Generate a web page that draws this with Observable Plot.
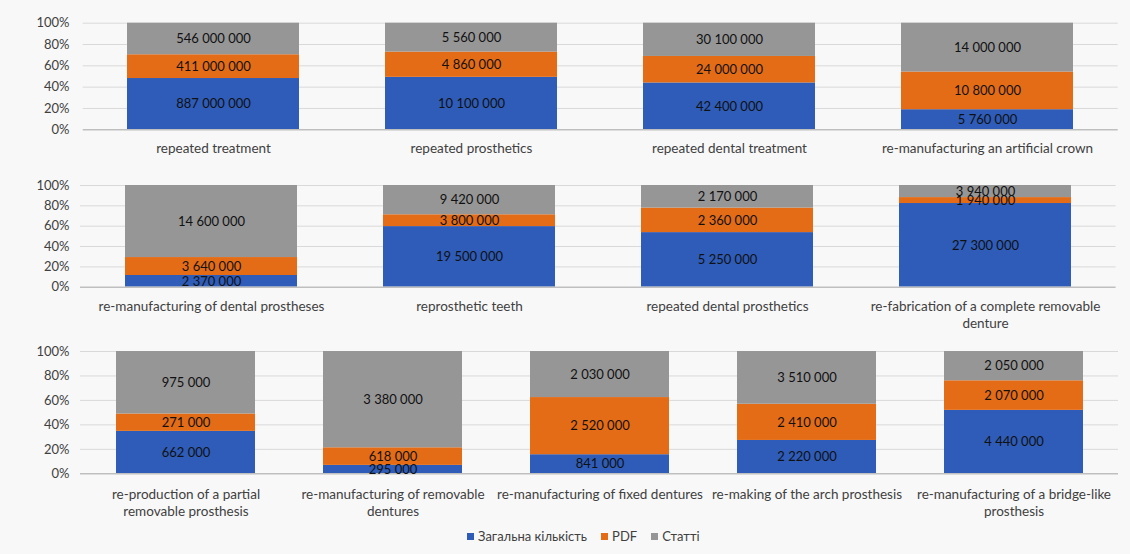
<!DOCTYPE html>
<html>
<head>
<meta charset="utf-8">
<script src="https://cdn.jsdelivr.net/npm/d3@7"></script>
<script src="https://cdn.jsdelivr.net/npm/@observablehq/plot@0.6"></script>
<style>
  html, body { margin: 0; padding: 0; background: #ffffff; }
  #wrap { position: relative; width: 1130px; height: 554px; background: #f8f8f8; overflow: hidden; font-family: Lato, "Open Sans", sans-serif; }
  .row { position: absolute; left: 0; }
  #legend { position: absolute; left: 467px; top: 528px; display: flex; align-items: center; font-size: 13px; color: #404040; white-space: nowrap; }
  #legend .sw { display: inline-block; width: 7px; height: 7px; margin-right: 4px; }
  #legend .item { display: flex; align-items: center; margin-right: 14px; }
</style>
</head>
<body>
<div id="wrap">
  <div class="row" id="r1" style="top:0px"></div>
  <div class="row" id="r2" style="top:170px"></div>
  <div class="row" id="r3" style="top:340px"></div>
  <div id="legend"></div>
</div>
<script>
// ---- Data ----
const seriesNames = ["Загальна кількість", "PDF", "Статті"];
const seriesColors = ["#2E5CB8", "#E46C17", "#969696"];
const yTicks = [0, 0.2, 0.4, 0.6, 0.8, 1];

const categories1 = ["repeated treatment", "repeated prosthetics", "repeated dental treatment", "re-manufacturing an artificial crown"];
const total1 = [887000000, 10100000, 42400000, 5760000];
const pdf1 = [411000000, 4860000, 24000000, 10800000];
const articles1 = [546000000, 5560000, 30100000, 14000000];

const categories2 = ["re-manufacturing of dental prostheses", "reprosthetic teeth", "repeated dental prosthetics", "re-fabrication of a complete removable\ndenture"];
const total2 = [2370000, 19500000, 5250000, 27300000];
const pdf2 = [3640000, 3800000, 2360000, 1940000];
const articles2 = [14600000, 9420000, 2170000, 3940000];

const categories3 = ["re-production of a partial\nremovable prosthesis", "re-manufacturing of removable\ndentures", "re-manufacturing of fixed dentures", "re-making of the arch prosthesis", "re-manufacturing of a bridge-like\nprosthesis"];
const total3 = [662000, 295000, 841000, 2220000, 4440000];
const pdf3 = [271000, 618000, 2520000, 2410000, 2070000];
const articles3 = [975000, 3380000, 2030000, 3510000, 2050000];

// ---- Helpers ----
const fmtNum = v => d3.format(",")(v).replace(/,/g, " ");

function buildRows(cats, seriesArrays) {
  const rows = [];
  cats.forEach((c, i) => {
    const vals = seriesArrays.map(a => a[i]);
    const sum = d3.sum(vals);
    let acc = 0;
    vals.forEach((v, j) => {
      const y1 = acc / sum;
      acc += v;
      const y2 = acc / sum;
      rows.push({cat: c, series: seriesNames[j], value: v, y1, y2, ym: (y1 + y2) / 2});
    });
  });
  return rows;
}

function makeRow(cats, seriesArrays, o) {
  const rows = buildRows(cats, seriesArrays);
  return Plot.plot({
    width: 1130,
    height: o.height,
    marginTop: o.mt,
    marginBottom: o.mb,
    marginLeft: o.ml,
    marginRight: o.mr,
    style: {background: "transparent", fontFamily: "Lato, 'Open Sans', sans-serif", fontSize: "13px", color: "#404040"},
    x: {domain: cats, paddingInner: o.pad, paddingOuter: o.pad / 2, axis: null, label: null},
    y: {domain: [0, 1], axis: null, label: null},
    color: {domain: seriesNames, range: seriesColors},
    marks: [
      Plot.ruleY(yTicks.filter(d => d > 0), {stroke: "#d9d9d9", strokeWidth: 1}),
      Plot.barY(rows, {x: "cat", y1: "y1", y2: "y2", fill: "series"}),
      Plot.ruleY([0], {stroke: "#bfbfbf", strokeWidth: 1.5}),
      Plot.text(rows, {x: "cat", y: "ym", text: d => fmtNum(d.value), fill: "#111111", fontSize: 13}),
      Plot.axisY({ticks: yTicks, tickFormat: d3.format(".0%"), tickSize: 0, tickPadding: o.ml - 69, fontSize: 13, fill: "#404040", label: null}),
      Plot.axisX({tickSize: 0, tickPadding: o.xpad, fontSize: 13.5, lineHeight: 1.3, fill: "#404040", label: null})
    ]
  });
}

document.getElementById("r1").append(
  makeRow(categories1, [total1, pdf1, articles1], {height: 170, mt: 22.7, mb: 170 - 129.3, ml: 82.7, mr: 12.3, pad: 0.335, xpad: 11})
);
document.getElementById("r2").append(
  makeRow(categories2, [total2, pdf2, articles2], {height: 170, mt: 15, mb: 170 - 116.7, ml: 80, mr: 14.4, pad: 0.335, xpad: 11})
);
document.getElementById("r3").append(
  makeRow(categories3, [total3, pdf3, articles3], {height: 190, mt: 11, mb: 190 - 133.3, ml: 80, mr: 12, pad: 0.33, xpad: 12.5})
);

// ---- Legend ----
const legend = document.getElementById("legend");
seriesNames.forEach((name, i) => {
  const item = document.createElement("span");
  item.className = "item";
  const sw = document.createElement("span");
  sw.className = "sw";
  sw.style.background = seriesColors[i];
  const label = document.createElement("span");
  label.textContent = name;
  item.append(sw, label);
  legend.append(item);
});
</script>
</body>
</html>
